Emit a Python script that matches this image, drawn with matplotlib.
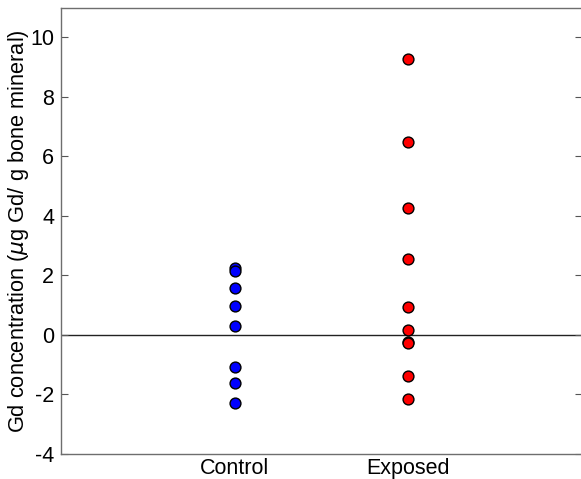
import matplotlib
matplotlib.use("Agg")
import matplotlib.pyplot as plt

categories = ["Control", "Exposed"]
control_vals = [2.25, 2.15, 1.59, 0.98, 0.31, -1.08, -1.61, -2.29]
exposed_vals = [9.26, 6.47, 4.28, 2.57, 0.93, 0.17, -0.22, -0.28, -1.38, -2.16]
yticks = [-4, -2, 0, 2, 4, 6, 8, 10]

plt.rcParams['font.family'] = ['Liberation Sans', 'DejaVu Sans']
plt.rcParams['mathtext.fontset'] = 'dejavusans'
plt.rcParams['axes.unicode_minus'] = False

fig = plt.figure(figsize=(5.81, 4.79), dpi=100)
ax = fig.add_axes([61/581, 1 - 454/479, 521/581, (454 - 7.7)/479])

ax.axhline(0, color='#222222', lw=1.0, zorder=1)
ax.plot([1]*len(control_vals), control_vals, 'o', ms=7.8, mfc=(0, 0, 1), mec='black', mew=1.0, zorder=3)
ax.plot([2]*len(exposed_vals), exposed_vals, 'o', ms=7.8, mfc=(1, 0, 0), mec='black', mew=1.0, zorder=3)

ax.set_xlim(0, 3)
ax.set_ylim(-4, 11)
ax.set_xticks([1, 2])
ax.set_xticklabels(categories)
ax.set_yticks(yticks)
ax.tick_params(axis='y', direction='in', length=5, right=True, labelsize=15.5, color='#555555', pad=5)
ax.tick_params(axis='x', length=0, labelsize=15.5, pad=3)
for s in ax.spines.values():
    s.set_color('#6e6e6e')
    s.set_linewidth(1.0)
ax.set_ylabel(r"Gd concentration ($\mu$g Gd/ g bone mineral)", fontsize=15.7)
ax.yaxis.set_label_coords(-0.057, 0.5)

fig.savefig("out.png", dpi=100)
